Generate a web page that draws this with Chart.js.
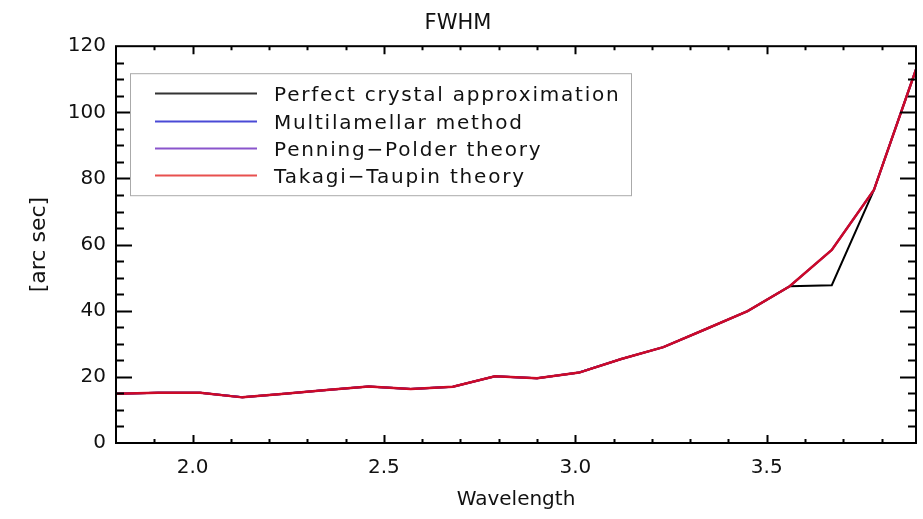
<!DOCTYPE html>
<html>
<head>
<meta charset="utf-8">
<script src="https://cdn.jsdelivr.net/npm/chart.js@4/dist/chart.umd.min.js"></script>
<style>
  html, body { margin: 0; padding: 0; background: #fff; overflow: hidden; }
</style>
</head>
<body>
<canvas id="myChart" width="923" height="519"></canvas>
<script>
// wavelength grid (x) and FWHM values in arc sec
const wavelength = [1.80, 1.91, 2.02, 2.13, 2.24, 2.35, 2.46, 2.57, 2.68, 2.79,
                    2.90, 3.01, 3.12, 3.23, 3.34, 3.45, 3.56, 3.67, 3.78, 3.89];
const perfectCrystal = [14.9, 15.2, 15.2, 13.8, 14.9, 16.0, 17.1, 16.3, 17.0, 20.2,
                        19.6, 21.3, 25.4, 29.0, 34.4, 39.9, 47.4, 47.7, 76.5, 113.0];
const multilamellar = [14.9, 15.2, 15.2, 13.8, 14.9, 16.0, 17.1, 16.3, 17.0, 20.2,
                       19.6, 21.3, 25.4, 29.0, 34.4, 39.9, 47.4, 58.4, 76.5, 113.0];
const penningPolder = [14.9, 15.2, 15.2, 13.8, 14.9, 16.0, 17.1, 16.3, 17.0, 20.2,
                       19.6, 21.3, 25.4, 29.0, 34.4, 39.9, 47.4, 58.4, 76.5, 113.0];
const takagiTaupin = [14.9, 15.2, 15.2, 13.8, 14.9, 16.0, 17.1, 16.3, 17.0, 20.2,
                      19.6, 21.3, 25.4, 29.0, 34.4, 39.9, 47.4, 58.4, 76.5, 113.0];
const xTickValues = [2.0, 2.5, 3.0, 3.5];
const seriesNames = ['Perfect crystal approximation', 'Multilamellar method',
                     'Penning\u2212Polder theory', 'Takagi\u2212Taupin theory'];

const FONT = '"DejaVu Sans", sans-serif';

function toPoints(ys) {
  return ys.map((y, i) => ({ x: wavelength[i], y: y }));
}

// ticks pointing inward on all four sides (IDL style)
const inwardTicks = {
  id: 'inwardTicks',
  afterDraw(chart) {
    const c = chart.ctx;
    const a = chart.chartArea;
    const xs = chart.scales.x, ys = chart.scales.y;
    c.save();
    c.strokeStyle = '#000';
    c.lineWidth = 2;
    c.beginPath();
    for (let k = 18; k <= 38; k++) {
      const v = k / 10;
      const px = Math.round(xs.getPixelForValue(v)) + 0.5;
      if (px <= a.left + 1 || px >= a.right - 1) continue;
      const len = (k % 5 === 0) ? 8 : 4;
      c.moveTo(px, a.bottom); c.lineTo(px, a.bottom - len);
      c.moveTo(px, a.top); c.lineTo(px, a.top + len);
    }
    for (let v = 5; v < 120; v += 5) {
      const py = Math.round(ys.getPixelForValue(v)) + 0.5;
      const len = (v % 20 === 0) ? 16 : 8;
      c.moveTo(a.left, py); c.lineTo(a.left + len, py);
      c.moveTo(a.right, py); c.lineTo(a.right - len, py);
    }
    c.stroke();
    c.lineWidth = 2;
    c.strokeRect(a.left, a.top, a.right - a.left, a.bottom - a.top);
    c.restore();
  }
};

// boxed legend inside the plot, like the original
const boxLegend = {
  id: 'boxLegend',
  afterDraw(chart) {
    const c = chart.ctx;
    const a = chart.chartArea;
    const x0 = a.left + 14, y0 = a.top + 27;
    c.save();
    c.fillStyle = '#fff';
    c.fillRect(x0, y0, 501, 122);
    c.strokeStyle = '#aaaaaa';
    c.lineWidth = 1;
    c.strokeRect(x0 + 0.5, y0 + 0.5, 501, 122);
    c.font = '20px ' + FONT;
    c.letterSpacing = '1.8px';
    c.textBaseline = 'middle';
    chart.data.datasets.forEach((ds, i) => {
      const yy = Math.round(y0 + 20 + i * 27.3) + 0.5;
      c.strokeStyle = ds.legendColor;
      c.lineWidth = 2;
      c.beginPath();
      c.moveTo(x0 + 25, yy); c.lineTo(x0 + 127, yy);
      c.stroke();
      c.fillStyle = '#111';
      c.fillText(ds.label, x0 + 144, yy + 2);
    });
    c.restore();
  }
};

const ctx = document.getElementById('myChart').getContext('2d');
const myChart = new Chart(ctx, {
  type: 'line',
  data: {
    datasets: [{
      label: seriesNames[0],
      data: toPoints(perfectCrystal),
      borderColor: '#000000',
      legendColor: '#333333',
      borderWidth: 2,
      order: 3
    }, {
      label: seriesNames[1],
      data: toPoints(multilamellar),
      borderColor: '#3333cc',
      legendColor: '#4a4ad6',
      borderWidth: 2,
      order: 2
    }, {
      label: seriesNames[2],
      data: toPoints(penningPolder),
      borderColor: '#7a3cc8',
      legendColor: '#8a55cc',
      borderWidth: 2,
      order: 1
    }, {
      label: seriesNames[3],
      data: toPoints(takagiTaupin),
      borderColor: '#cc0a28',
      legendColor: '#e8504f',
      borderWidth: 2.5,
      order: 0
    }]
  },
  options: {
    responsive: false,
    animation: false,
    layout: { padding: { left: 0, right: 7, top: 0, bottom: 0 } },
    elements: { point: { radius: 0 }, line: { tension: 0 } },
    plugins: {
      legend: { display: false },
      tooltip: { enabled: false },
      title: {
        display: true,
        text: 'FWHM',
        color: '#111',
        font: { family: FONT, size: 21, weight: 'normal' },
        padding: { top: 11, bottom: 10 }
      }
    },
    scales: {
      x: {
        type: 'linear',
        min: 1.8,
        max: 3.89,
        afterBuildTicks: s => { s.ticks = xTickValues.map(v => ({ value: v })); },
        afterFit: s => { s.height = 76; },
        grid: { display: false, drawTicks: false },
        border: { display: false },
        ticks: {
          color: '#111',
          font: { family: FONT, size: 20 },
          padding: 13,
          maxRotation: 0,
          callback: v => v.toFixed(1)
        },
        title: {
          display: true,
          text: 'Wavelength',
          color: '#111',
          font: { family: FONT, size: 20 },
          padding: { top: 0, bottom: 7 }
        }
      },
      y: {
        min: 0,
        max: 120,
        afterFit: s => { s.width = 116; },
        grid: { display: false, drawTicks: false },
        border: { display: false },
        ticks: {
          stepSize: 20,
          color: '#111',
          font: { family: FONT, size: 20 },
          padding: 10
        },
        title: {
          display: true,
          text: '[arc sec]',
          color: '#111',
          font: { family: FONT, size: 22 },
          padding: { top: 26, bottom: 0 }
        }
      }
    }
  },
  plugins: [inwardTicks, boxLegend]
});
</script>
</body>
</html>
